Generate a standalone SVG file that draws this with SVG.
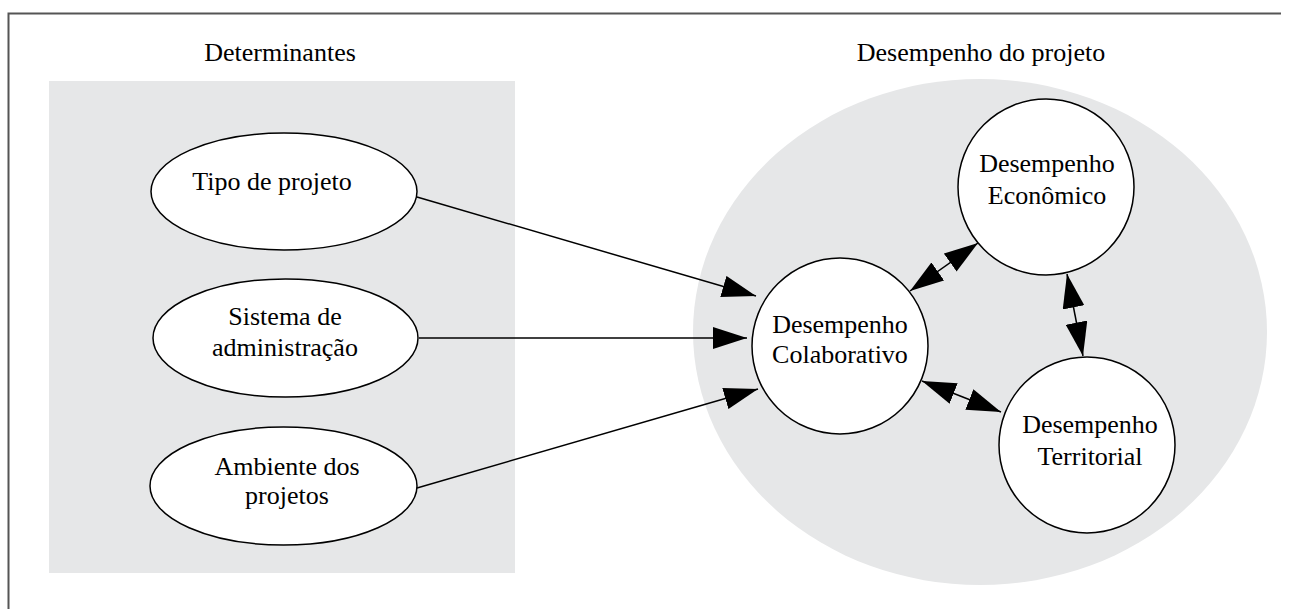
<svg xmlns="http://www.w3.org/2000/svg" width="1290" height="609" viewBox="0 0 1290 609">
<style>
  text { font-family: "Liberation Serif", "Times New Roman", serif; font-size: 26px; fill: #000; text-anchor: middle; }
  .node { fill: #fff; stroke: #000; stroke-width: 1.5; }
  .bg { fill: #e6e7e8; stroke: none; }
  .conn { stroke: #000; stroke-width: 1.5; fill: none; }
</style>
<defs>
  <marker id="arrow" viewBox="0 0 34 22" refX="34" refY="11" markerWidth="34" markerHeight="22" markerUnits="userSpaceOnUse" orient="auto-start-reverse">
    <path d="M0,0 L34,11 L0,22 Z" fill="#000"/>
  </marker>
</defs>
<rect width="1290" height="609" fill="#fff"/>
<path d="M8.5,609 V13.5 H1281" fill="none" stroke="#555" stroke-width="2"/>

<g id="group-determinantes">
  <rect class="bg" x="49" y="81" width="466" height="492"/>
  <text x="280" y="61">Determinantes</text>
</g>
<g id="group-desempenho">
  <ellipse class="bg" cx="980" cy="332" rx="287" ry="253"/>
  <text x="981" y="61">Desempenho do projeto</text>
</g>

<g id="connectors">
  <line class="conn" x1="417" y1="197" x2="756" y2="296" marker-end="url(#arrow)"/>
  <line class="conn" x1="419" y1="338" x2="747" y2="338" marker-end="url(#arrow)"/>
  <line class="conn" x1="417" y1="488" x2="758" y2="389" marker-end="url(#arrow)"/>
  <line class="conn" x1="910" y1="291" x2="978" y2="243" marker-start="url(#arrow)" marker-end="url(#arrow)"/>
  <line class="conn" x1="1067" y1="274" x2="1083" y2="356" marker-start="url(#arrow)" marker-end="url(#arrow)"/>
  <line class="conn" x1="922" y1="381" x2="1001" y2="412" marker-start="url(#arrow)" marker-end="url(#arrow)"/>
</g>

<g id="node-tipo">
  <ellipse class="node" cx="284" cy="191.5" rx="133" ry="58.5"/>
  <text x="272" y="190">Tipo de projeto</text>
</g>
<g id="node-sistema">
  <ellipse class="node" cx="285.5" cy="338" rx="132.5" ry="59"/>
  <text x="285" y="325">Sistema de</text>
  <text x="285" y="356">administração</text>
</g>
<g id="node-ambiente">
  <ellipse class="node" cx="283.5" cy="486" rx="133.5" ry="59"/>
  <text x="287" y="475">Ambiente dos</text>
  <text x="287" y="504">projetos</text>
</g>
<g id="node-colaborativo">
  <circle class="node" cx="840" cy="346" r="88"/>
  <text x="840" y="333">Desempenho</text>
  <text x="840" y="363">Colaborativo</text>
</g>
<g id="node-economico">
  <circle class="node" cx="1046" cy="187" r="88"/>
  <text x="1047" y="172">Desempenho</text>
  <text x="1047" y="204">Econômico</text>
</g>
<g id="node-territorial">
  <circle class="node" cx="1087" cy="445" r="88"/>
  <text x="1090" y="433">Desempenho</text>
  <text x="1090" y="465">Territorial</text>
</g>
</svg>
